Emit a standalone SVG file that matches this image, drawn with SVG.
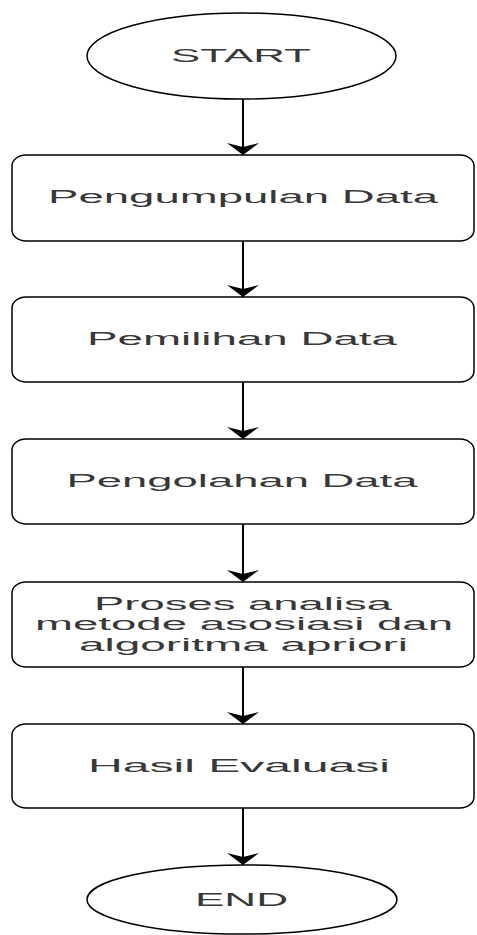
<svg xmlns="http://www.w3.org/2000/svg" width="477" height="935" viewBox="0 0 477 935">
<style>
.shape{fill:#ffffff;stroke:#000000;stroke-width:1.5}
.lbl{font-family:"Liberation Sans",Arial,sans-serif;font-size:17.5px;fill:#383838;text-anchor:middle}
.conn{stroke:#000000;stroke-width:2;fill:none}
</style>
<defs>
<marker id="arr" markerUnits="userSpaceOnUse" viewBox="0 0 13 32" refX="12" refY="16" markerWidth="13" markerHeight="32" orient="auto">
<path d="M0,0 L12,16 L0,32 L4,16 Z" fill="#000000"/>
</marker>
</defs>
<rect width="477" height="935" fill="#ffffff"/>
<g id="connectors">
<line class="conn" x1="243" y1="99" x2="243" y2="155" marker-end="url(#arr)"/>
<line class="conn" x1="243" y1="241" x2="243" y2="297" marker-end="url(#arr)"/>
<line class="conn" x1="243" y1="382" x2="243" y2="439" marker-end="url(#arr)"/>
<line class="conn" x1="243" y1="524" x2="243" y2="582" marker-end="url(#arr)"/>
<line class="conn" x1="243" y1="667" x2="243" y2="724" marker-end="url(#arr)"/>
<line class="conn" x1="243" y1="808" x2="243" y2="865" marker-end="url(#arr)"/>
</g>
<g id="start">
<ellipse class="shape" cx="241.5" cy="56" rx="154.5" ry="43"/>
<text class="lbl" x="0" y="0" transform="translate(241,62) scale(2.6,1)" textLength="53.8" lengthAdjust="spacingAndGlyphs">START</text>
</g>
<g id="pengumpulan">
<rect class="shape" x="12" y="155" width="462" height="86" rx="14" ry="11"/>
<text class="lbl" x="0" y="0" transform="translate(243,203) scale(2.6,1)" textLength="150" lengthAdjust="spacingAndGlyphs">Pengumpulan Data</text>
</g>
<g id="pemilihan">
<rect class="shape" x="12" y="297" width="462" height="85" rx="14" ry="11"/>
<text class="lbl" x="0" y="0" transform="translate(242,345) scale(2.6,1)" textLength="119.2" lengthAdjust="spacingAndGlyphs">Pemilihan Data</text>
</g>
<g id="pengolahan">
<rect class="shape" x="12" y="439" width="462" height="85" rx="14" ry="11"/>
<text class="lbl" x="0" y="0" transform="translate(242,487) scale(2.6,1)" textLength="135" lengthAdjust="spacingAndGlyphs">Pengolahan Data</text>
</g>
<g id="proses">
<rect class="shape" x="12" y="582" width="462" height="85" rx="14" ry="11"/>
<text class="lbl" x="0" y="0" transform="translate(243,610) scale(2.6,1)" textLength="114.6" lengthAdjust="spacingAndGlyphs">Proses analisa</text>
<text class="lbl" x="0" y="0" transform="translate(244,630) scale(2.6,1)" textLength="160.8" lengthAdjust="spacingAndGlyphs">metode asosiasi dan</text>
<text class="lbl" x="0" y="0" transform="translate(243.5,651) scale(2.6,1)" textLength="126.5" lengthAdjust="spacingAndGlyphs">algoritma apriori</text>
</g>
<g id="hasil">
<rect class="shape" x="12" y="724" width="462" height="84" rx="14" ry="11"/>
<text class="lbl" x="0" y="0" transform="translate(239,772) scale(2.6,1)" textLength="116.2" lengthAdjust="spacingAndGlyphs">Hasil Evaluasi</text>
</g>
<g id="end">
<ellipse class="shape" cx="242" cy="899.5" rx="155" ry="34.5"/>
<text class="lbl" x="0" y="0" transform="translate(241.5,906) scale(2.6,1)" textLength="35.8" lengthAdjust="spacingAndGlyphs">END</text>
</g>
</svg>
